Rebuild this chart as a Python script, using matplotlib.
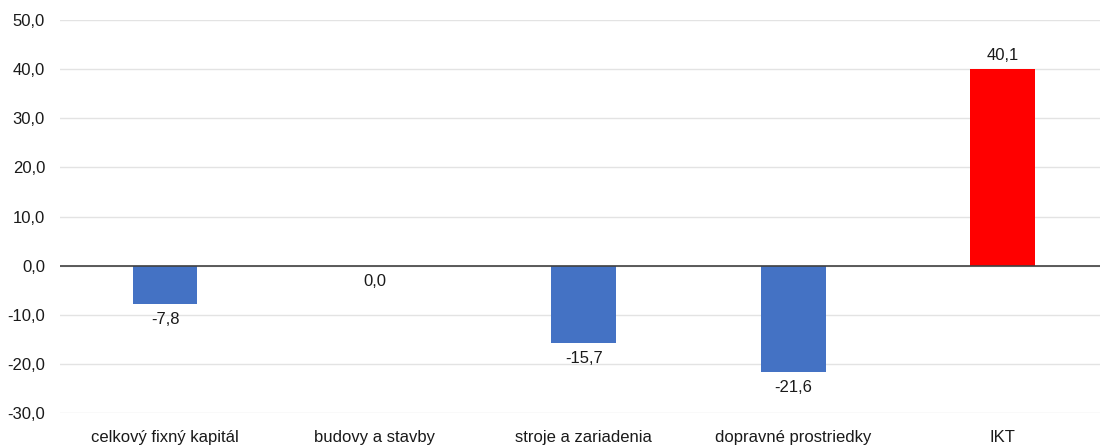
import matplotlib.pyplot as plt

# data
categories = ['celkový fixný kapitál', 'budovy a stavby', 'stroje a zariadenia',
              'dopravné prostriedky', 'IKT']
values = [-7.8, 0.0, -15.7, -21.6, 40.1]
colors = ['#4472C4', '#4472C4', '#4472C4', '#4472C4', '#FF0000']
yticks = [-30, -20, -10, 0, 10, 20, 30, 40, 50]

plt.rcParams['font.family'] = ['Liberation Sans', 'DejaVu Sans']

fig = plt.figure(figsize=(11, 4.46), dpi=100)
ax = fig.add_axes([0.0548, 0.074, 0.952, 0.881])

x = range(len(categories))
ax.bar(x, values, width=0.31, color=colors, zorder=3)

ax.set_xlim(-0.5, len(categories) - 0.5)
ax.set_ylim(-30, 50)
ax.set_yticks(yticks)
ax.yaxis.set_major_formatter(plt.FuncFormatter(lambda v, p: ('%.1f' % v).replace('.', ',')))
ax.set_xticks(list(x))
ax.set_xticklabels(categories)
ax.tick_params(axis='both', length=0, labelsize=12, colors='#1a1a1a')
ax.tick_params(axis='x', pad=12)
ax.tick_params(axis='y', pad=11)

ax.grid(axis='y', color='#e3e3e3', linewidth=1, zorder=0)
ax.axhline(0, color='#404040', linewidth=1.2, zorder=4)
for s in ax.spines.values():
    s.set_visible(False)

for i, v in enumerate(values):
    txt = ('%.1f' % v).replace('.', ',')
    if v > 0:
        ax.annotate(txt, (i, v), xytext=(0, 4), textcoords='offset points',
                    ha='center', va='bottom', fontsize=12, color='#1a1a1a')
    else:
        ax.annotate(txt, (i, v), xytext=(0, -6), textcoords='offset points',
                    ha='center', va='top', fontsize=12, color='#1a1a1a')

fig.savefig('out.png', dpi=100)
